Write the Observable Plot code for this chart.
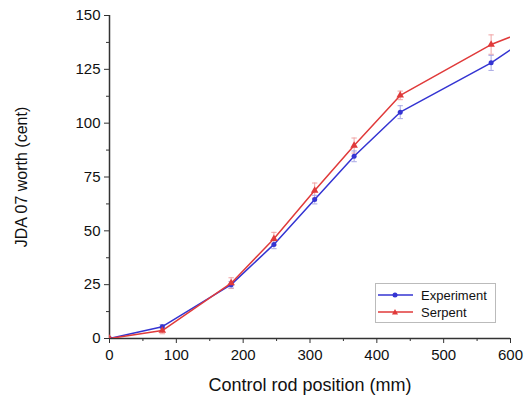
<!DOCTYPE html>
<html><head><meta charset="utf-8">
<script src="https://cdn.jsdelivr.net/npm/d3@7"></script>
<script src="https://cdn.jsdelivr.net/npm/@observablehq/plot@0.6"></script>
<style>
body{margin:0;background:#fff;font-family:Arial,"Liberation Sans",sans-serif}
#wrap{position:relative;width:524px;height:401px}
#legend{position:absolute;left:375px;top:283px;width:119px;height:38px;border:1px solid #bbb;background:#fff;font-size:13px;color:#111}
#legend .row{position:absolute;left:0;height:16px;display:flex;align-items:center}
#legend svg{margin-left:2px;margin-right:8px}
</style>
</head><body><div id="wrap"></div>
<script>
const positions = [0, 79, 182, 246, 307, 366, 435, 571, 612];
const experiment = [0, 5.5, 25, 43.7, 64.5, 84.6, 105.1, 128, 136.6];
const experimentErr = [0, 1, 1.5, 2, 2, 2.5, 3, 3.5, 4];
const serpent = [0, 3.7, 25.7, 46.3, 68.7, 89.6, 112.9, 136.5, 141.5];
const serpentErr = [0, 1.5, 2.5, 3, 3.5, 3.5, 2, 4.5, 4];
const yTicks = [0, 25, 50, 75, 100, 125, 150];
const xTicks = [0, 100, 200, 300, 400, 500, 600];
const blue = "#3434d2", red = "#e03a3a";

const exp = positions.map((x, i) => ({x, y: experiment[i], e: experimentErr[i]}));
const ser = positions.map((x, i) => ({x, y: serpent[i], e: serpentErr[i]}));
const yMinor = yTicks.slice(0, -1).map(v => v + 12.5);
const xMinor = xTicks.slice(0, -1).map(v => v + 50);
const none = () => "";

const plot = Plot.plot({
  width: 524, height: 401,
  marginLeft: 109, marginRight: 14, marginTop: 15, marginBottom: 63,
  x: {domain: [0, 600]},
  y: {domain: [0, 150]},
  style: {fontFamily: "Arial, 'Liberation Sans', sans-serif", fontSize: "14px", color: "#111"},
  marks: [
    Plot.ruleX([0], {y1: 0, y2: 150, stroke: "#333", strokeWidth: 1.5}),
    Plot.ruleY([0], {x1: 0, x2: 600, stroke: "#333", strokeWidth: 1.5}),
    Plot.axisY({ticks: yTicks, tickSize: 5, tickPadding: 4, label: null, stroke: "#333", fontSize: 15}),
    Plot.axisY({ticks: yMinor, tickSize: 3, tickFormat: none, label: null, stroke: "#333"}),
    Plot.axisX({ticks: xTicks, tickSize: 5, tickPadding: 6, label: null, stroke: "#333", fontSize: 15}),
    Plot.axisX({ticks: xMinor, tickSize: 3, tickFormat: none, label: null, stroke: "#333"}),
    // error bars
    Plot.ruleX(ser.filter(d => d.e > 0), {x: "x", y1: d => d.y - d.e, y2: d => d.y + d.e, stroke: "#f0a4a4", strokeWidth: 1, clip: true}),
    Plot.link(ser.filter(d => d.e > 0), {x1: d => d.x - 4, x2: d => d.x + 4, y1: d => d.y + d.e, y2: d => d.y + d.e, stroke: "#f0a4a4", clip: true}),
    Plot.link(ser.filter(d => d.e > 0), {x1: d => d.x - 4, x2: d => d.x + 4, y1: d => d.y - d.e, y2: d => d.y - d.e, stroke: "#f0a4a4", clip: true}),
    Plot.ruleX(exp.filter(d => d.e > 0), {x: "x", y1: d => d.y - d.e, y2: d => d.y + d.e, stroke: "#a8a8e4", strokeWidth: 1, clip: true}),
    Plot.link(exp.filter(d => d.e > 0), {x1: d => d.x - 4, x2: d => d.x + 4, y1: d => d.y + d.e, y2: d => d.y + d.e, stroke: "#a8a8e4", clip: true}),
    Plot.link(exp.filter(d => d.e > 0), {x1: d => d.x - 4, x2: d => d.x + 4, y1: d => d.y - d.e, y2: d => d.y - d.e, stroke: "#a8a8e4", clip: true}),
    // lines
    Plot.line(exp, {x: "x", y: "y", stroke: blue, strokeWidth: 1.5, clip: true}),
    Plot.line(ser, {x: "x", y: "y", stroke: red, strokeWidth: 1.5, clip: true}),
    Plot.dot(exp, {x: "x", y: "y", r: 2.5, fill: blue, stroke: "none", clip: true}),
    Plot.dot(ser, {x: "x", y: "y", r: 2.8, symbol: "triangle", fill: red, stroke: "none", clip: true}),
    // axis titles
    Plot.text(["JDA 07 worth (cent)"], {frameAnchor: "left", textAnchor: "middle", lineAnchor: "middle", rotate: -90, dx: -88, fontSize: 16, fill: "#111"}),
    Plot.text(["Control rod position (mm)"], {frameAnchor: "bottom", textAnchor: "middle", lineAnchor: "middle", dy: 47, fontSize: 18, fill: "#111"})
  ]
});
const wrap = document.getElementById("wrap");
wrap.appendChild(plot);

const legendItems = [["Experiment", blue, "circle"], ["Serpent", red, "triangle"]];
const legend = document.createElement("div");
legend.id = "legend";
legendItems.forEach(([name, color, sym], i) => {
  const row = document.createElement("div");
  row.className = "row";
  row.style.top = (3 + i * 17) + "px";
  const marker = sym === "circle"
    ? `<circle cx="17" cy="5" r="2.5" fill="${color}"/>`
    : `<path d="M17,2 L20,7.5 L14,7.5 Z" fill="${color}"/>`;
  row.innerHTML = `<svg width="35" height="10"><line x1="0" x2="35" y1="5" y2="5" stroke="${color}" stroke-width="1.5"/>${marker}</svg><span>${name}</span>`;
  legend.appendChild(row);
});
wrap.appendChild(legend);
</script>
</body></html>
